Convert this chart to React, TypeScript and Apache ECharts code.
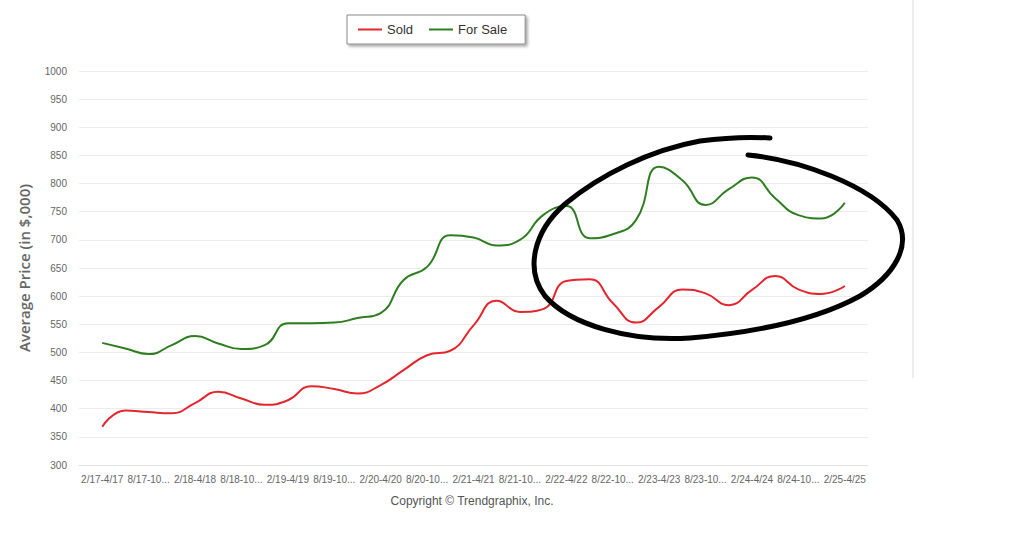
import React, { useEffect, useRef } from "react";
import * as echarts from "echarts";

const periods: string[] = [
  "2/17-4/17", "5/17-7/17", "8/17-10/17", "11/17-1/18",
  "2/18-4/18", "5/18-7/18", "8/18-10/18", "11/18-1/19",
  "2/19-4/19", "5/19-7/19", "8/19-10/19", "11/19-1/20",
  "2/20-4/20", "5/20-7/20", "8/20-10/20", "11/20-1/21",
  "2/21-4/21", "5/21-7/21", "8/21-10/21", "11/21-1/22",
  "2/22-4/22", "5/22-7/22", "8/22-10/22", "11/22-1/23",
  "2/23-4/23", "5/23-7/23", "8/23-10/23", "11/23-1/24",
  "2/24-4/24", "5/24-7/24", "8/24-10/24", "11/24-1/25",
  "2/25-4/25",
];

const sold: number[] = [
  368, 397, 394, 392, 410, 430, 418, 407, 415, 440, 435,
  427, 442, 469, 495, 503, 548, 592, 572, 577, 627, 630,
  588, 553, 581, 612, 605, 584, 611, 636, 612, 604, 618,
];

const forSale: number[] = [
  517, 507, 497, 513, 529, 516, 506, 513, 552, 552, 553,
  561, 570, 629, 652, 708, 704, 690, 700, 744, 760, 703,
  710, 735, 830, 806, 762, 790, 811, 774, 744, 738, 766,
];

const yTicks = { min: 300, max: 1000, step: 50 };

const circlePath =
  "M 748 155 C 800 160 870 185 897 220 C 912 245 895 275 860 296 " +
  "C 820 318 760 332 690 338 C 630 342 570 325 545 296 " +
  "C 525 270 533 232 565 204 C 600 175 650 150 700 141 C 730 137 755 137 770 138";

echarts.graphic.registerShape(
  "handCircle",
  echarts.graphic.extendPath(circlePath, {})
);

export default function App() {
  const ref = useRef<HTMLDivElement>(null);

  useEffect(() => {
    if (!ref.current) return;
    const chart = echarts.init(ref.current, undefined, { renderer: "svg" });
    const cats = ["", ...periods, ""];
    const pad = (arr: number[]) => [null, ...arr, null];
    const font = "'Liberation Sans', Arial, sans-serif";

    chart.setOption({
      animation: false,
      backgroundColor: "#ffffff",
      legend: {
        left: 347,
        top: 15,
        padding: [8, 18, 8, 11],
        itemGap: 16,
        itemWidth: 24,
        itemHeight: 2,
        icon: "rect",
        borderColor: "#8a8a8a",
        borderWidth: 1,
        backgroundColor: "#ffffff",
        shadowColor: "rgba(0,0,0,0.35)",
        shadowBlur: 3,
        shadowOffsetX: 2,
        shadowOffsetY: 2,
        textStyle: { fontFamily: font, fontSize: 13, color: "#333" },
        data: ["Sold", "For Sale"],
      },
      grid: { left: 79, right: 156, top: 71, bottom: 73 },
      xAxis: {
        type: "category",
        boundaryGap: false,
        data: cats,
        axisLine: { show: true, lineStyle: { color: "#e2e2e2" } },
        axisTick: { show: false },
        splitLine: { show: false },
        axisLabel: {
          interval: (i: number) => i % 2 === 1,
          color: "#666",
          fontSize: 10,
          fontFamily: font,
          margin: 9,
          formatter: (v: string) => (v.length > 9 ? v.slice(0, 7) + "..." : v),
        },
      },
      yAxis: {
        type: "value",
        min: yTicks.min,
        max: yTicks.max,
        interval: yTicks.step,
        name: "Average Price (in $,000)",
        nameLocation: "middle",
        nameGap: 48,
        nameTextStyle: {
          fontFamily: "'Open Sans', sans-serif",
          fontSize: 15,
          fontWeight: 600,
          color: "#666",
        },
        axisLine: { show: false },
        axisTick: { show: false },
        axisLabel: {
          color: "#666",
          fontSize: 10,
          fontFamily: font,
          margin: 12,
          formatter: (v: number) => String(v),
        },
        splitLine: { lineStyle: { color: "#ececec" } },
      },
      series: [
        {
          name: "Sold",
          type: "line",
          smooth: 0.5,
          symbol: "none",
          data: pad(sold),
          itemStyle: { color: "#e3262d" },
          lineStyle: { width: 2, color: "#e3262d" },
        },
        {
          name: "For Sale",
          type: "line",
          smooth: 0.5,
          symbol: "none",
          data: pad(forSale),
          itemStyle: { color: "#2f7d21" },
          lineStyle: { width: 2, color: "#2f7d21" },
        },
      ],
      graphic: [
        {
          type: "line",
          shape: { x1: 913, y1: 0, x2: 913, y2: 378 },
          style: { stroke: "#dcdcdc", lineWidth: 1 },
        },
        {
          type: "text",
          x: 472,
          y: 501,
          style: {
            text: "Copyright © Trendgraphix, Inc.",
            fontFamily: font,
            fontSize: 12,
            fill: "#555",
            textAlign: "center",
            textVerticalAlign: "middle",
          },
        },
        {
          type: "handCircle",
          x: 0,
          y: 0,
          z: 100,
          style: { stroke: "#000", lineWidth: 5, fill: null, lineCap: "round" },
        },
      ],
    });

    return () => chart.dispose();
  }, []);

  return (
    <div
      ref={ref}
      style={{ position: "absolute", left: 0, top: 0, width: 1024, height: 538 }}
    />
  );
}
